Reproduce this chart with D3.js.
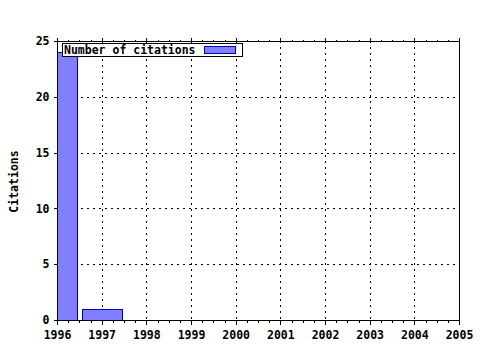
<!DOCTYPE html>
<html><head><meta charset="utf-8">
<script src="https://cdn.jsdelivr.net/npm/d3@7"></script>
<style>body{margin:0;background:#fff}text{font-family:"DejaVu Sans Mono",monospace;font-weight:bold;font-size:11.5px}</style>
</head><body><svg id="c" width="480" height="350"></svg>
<script>
const years = [1996, 1997];
const citations = [24, 1];
const xTicks = [1996,1997,1998,1999,2000,2001,2002,2003,2004,2005];
const yTicks = [0,5,10,15,20,25];
const seriesName = "Number of citations";
const yTitle = "Citations";

const svg = d3.select("#c");
const L=57, R=459, T=41, B=320;
const x = d3.scaleLinear().domain([1996,2005]).range([L,R]);
const y = d3.scaleLinear().domain([0,25]).range([B,T]);

svg.append("rect").attr("width",480).attr("height",350).attr("fill","#fff");
svg.append("defs").append("clipPath").attr("id","clip").append("rect")
  .attr("x",L).attr("y",T).attr("width",R-L).attr("height",B-T);

// grid
const g = svg.append("g").attr("stroke","#000").attr("stroke-dasharray","2,4").attr("shape-rendering","crispEdges");
xTicks.slice(1,-1).forEach(t=>g.append("line").attr("x1",Math.round(x(t))+0.5).attr("x2",Math.round(x(t))+0.5).attr("y1",T).attr("y2",B));
yTicks.slice(1,-1).forEach(t=>g.append("line").attr("y1",Math.round(y(t))+0.5).attr("y2",Math.round(y(t))+0.5).attr("x1",L).attr("x2",R));

// bars
svg.append("g").attr("clip-path","url(#clip)").selectAll("rect").data(years).join("rect")
  .attr("x",d=>Math.round(x(d-0.45))+0.5)
  .attr("width",d=>Math.round(x(d+0.45))-Math.round(x(d-0.45)))
  .attr("y",(d,i)=>Math.round(y(citations[i]))+0.5)
  .attr("height",(d,i)=>Math.round(y(0))-Math.round(y(citations[i])))
  .attr("fill","#8080ff").attr("stroke","#0000b0").attr("stroke-width",1);

// axes
const minor = d3.range(1996,2005.001,0.25);
const xb = svg.append("g").attr("transform",`translate(0,${B+0.5})`)
  .call(d3.axisBottom(x).tickValues(minor).tickSize(2).tickFormat(""));
xb.select(".domain").remove();
const xbm = svg.append("g").attr("transform",`translate(0,${B+0.5})`)
  .call(d3.axisBottom(x).tickValues(xTicks).tickSize(4).tickPadding(6).tickFormat(d3.format("d")));
xbm.select(".domain").remove();
xbm.selectAll("text").style("font-size","11.5px").style("font-family","DejaVu Sans Mono").attr("fill","#000");

const xt = svg.append("g").attr("transform",`translate(0,${T+0.5})`)
  .call(d3.axisTop(x).tickValues(minor).tickSize(2).tickFormat(""));
xt.select(".domain").remove();
const xtm = svg.append("g").attr("transform",`translate(0,${T+0.5})`)
  .call(d3.axisTop(x).tickValues(xTicks).tickSize(4).tickFormat(""));
xtm.select(".domain").remove();

const ya = svg.append("g").attr("transform",`translate(${L+0.5},0)`)
  .call(d3.axisLeft(y).tickValues(yTicks).tickSize(4).tickPadding(4));
ya.select(".domain").remove();
ya.selectAll("text").style("font-size","11.5px").style("font-family","DejaVu Sans Mono").attr("fill","#000");
svg.selectAll(".tick line").attr("stroke","#000").attr("shape-rendering","crispEdges");

// frame
svg.append("rect").attr("x",L+0.5).attr("y",T+0.5).attr("width",R-L).attr("height",B-T)
  .attr("fill","none").attr("stroke","#000").attr("shape-rendering","crispEdges");

// y title
svg.append("text").attr("transform",`translate(18,${(T+B)/2+1}) rotate(-90)`)
  .attr("text-anchor","middle").text(yTitle);

// legend
const lg = svg.append("g");
lg.append("rect").attr("x",62.5).attr("y",43.5).attr("width",180).attr("height",13)
  .attr("fill","#fff").attr("stroke","#000");
lg.append("text").attr("x",64).attr("y",54).text(seriesName);
lg.append("rect").attr("x",204.5).attr("y",46.5).attr("width",31).attr("height",7)
  .attr("fill","#8080ff").attr("stroke","#0000b0");
</script></body></html>
